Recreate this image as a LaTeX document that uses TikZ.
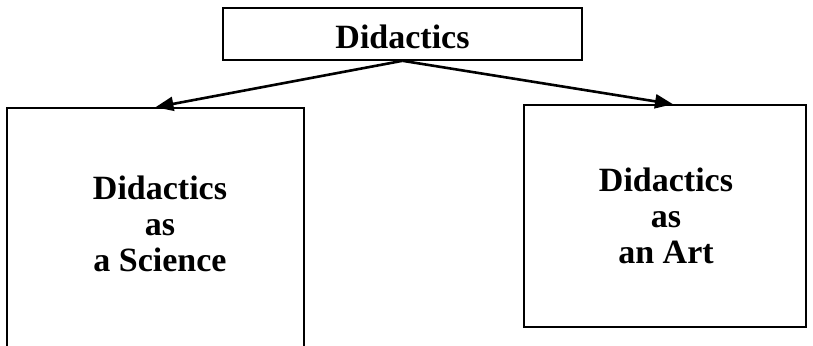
\documentclass[tikz,border=0pt]{standalone}
\usepackage{fontspec}
\setmainfont{Liberation Serif}
\usetikzlibrary{arrows.meta,calc}
\begin{document}
\begin{tikzpicture}[x=1pt,y=-1pt,
  box/.style={draw=black,line width=1.6pt,rectangle,inner sep=0pt},
  label/.style={align=center,font=\bfseries\fontsize{34}{36}\selectfont,inner sep=0pt},
  link/.style={line width=2.6pt,-{Triangle[length=18pt,width=14pt]}}]
\clip (0,0) rectangle (813,345);
\fill[white] (0,0) rectangle (813,345);
% top box
\node[box,minimum width=359pt,minimum height=52pt] (top) at (402.5,34) {};
\node[label] (toptxt) at (402.5,37) {Didactics};
% left box (runs past the bottom edge)
\node[box,minimum width=297pt,minimum height=262pt] (left) at (155.5,239) {};
\node[label] (lefttxt) at (160,224) {Didactics\\as\\a Science};
% right box
\node[box,minimum width=282pt,minimum height=222pt] (right) at (665,216) {};
\node[label] (righttxt) at (666,216) {Didactics\\as\\an Art};
% connectors
\draw[link] (top.south) -- (left.north);
\draw[link] (top.south) -- ($(right.north)+(8,0)$);
\end{tikzpicture}
\end{document}
